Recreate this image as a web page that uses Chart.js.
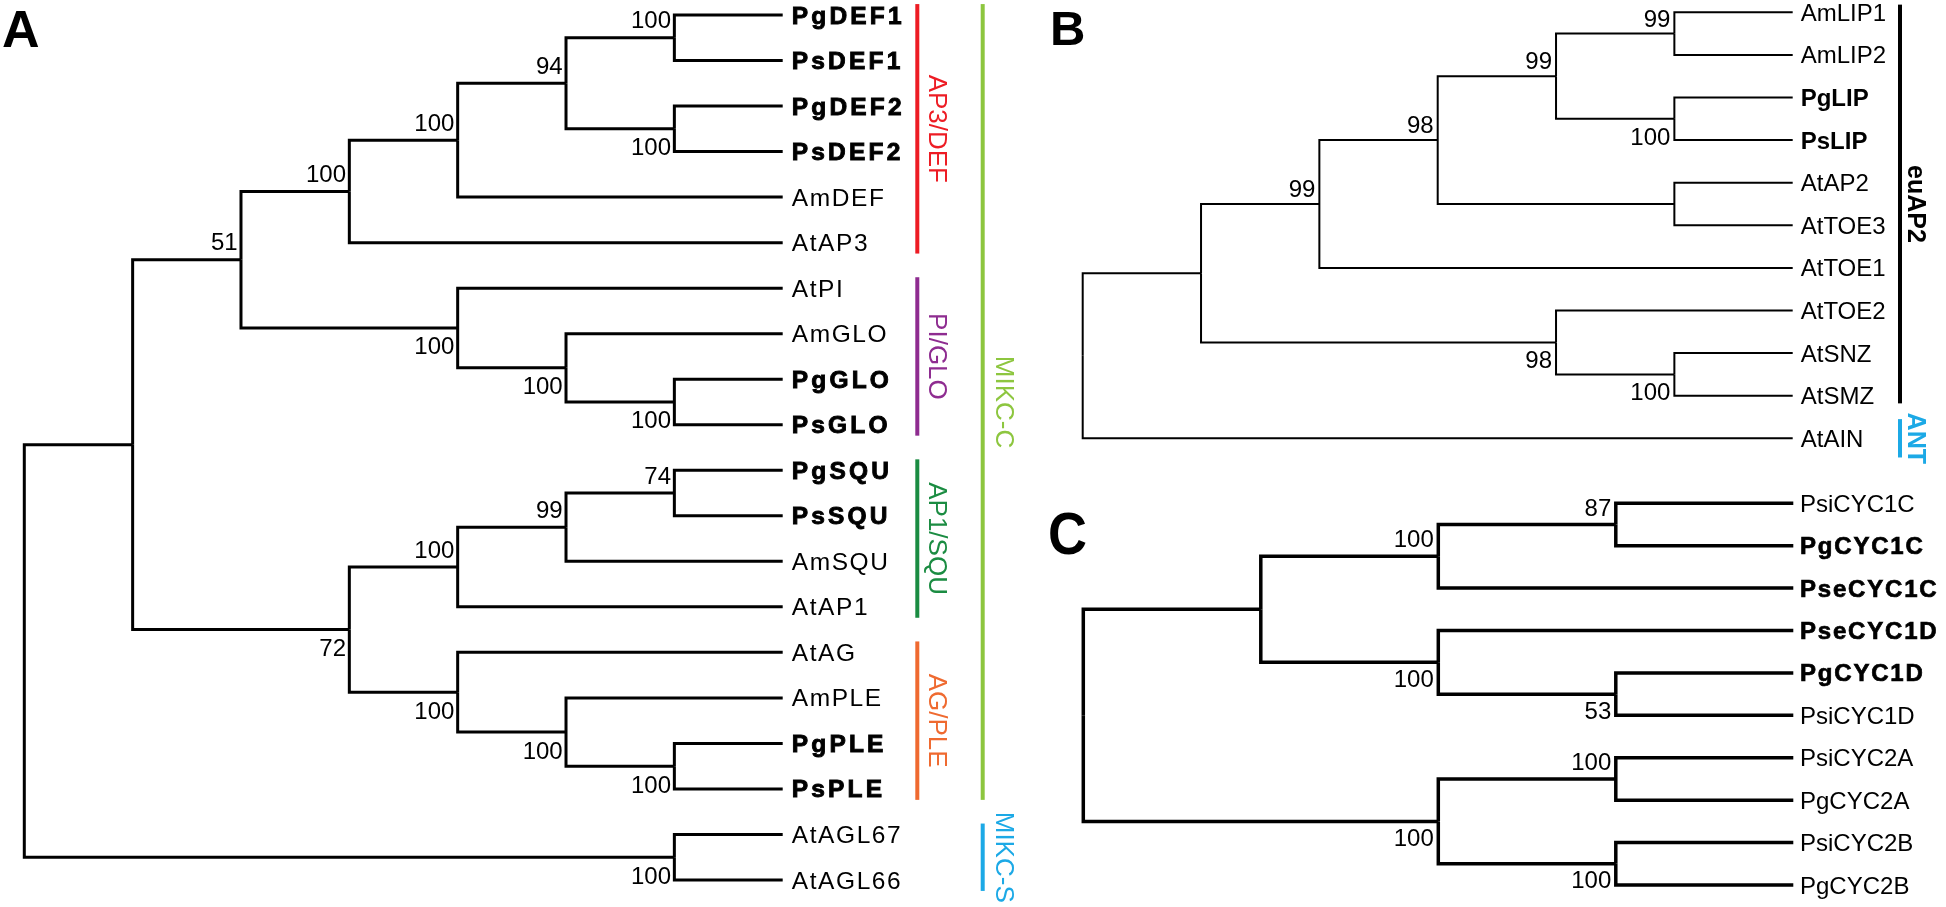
<!DOCTYPE html>
<html>
<head>
<meta charset="utf-8">
<script src="https://cdn.jsdelivr.net/npm/chart.js@4.4.0/dist/chart.umd.min.js"></script>
<style>
  body { margin: 0; background: #fff; }
  #wrap { position: relative; width: 1946px; height: 907px; background: #fff; }
  canvas { position: absolute; }
</style>
</head>
<body>
<div id="wrap">
  <canvas id="treeA" width="1040" height="907" style="left:0;top:0"></canvas>
  <canvas id="treeB" width="906" height="470" style="left:1040px;top:0"></canvas>
  <canvas id="treeC" width="906" height="437" style="left:1040px;top:470px"></canvas>
</div>
<script>
// ===================================
// --- TREE DATA (Newick, bootstrap values on internal nodes) ---
// ===================================

const newickA = "(((((((PgDEF1,PsDEF1)100,(PgDEF2,PsDEF2)100)94,AmDEF)100,AtAP3)100,(AtPI,(AmGLO,(PgGLO,PsGLO)100)100)100)51," +
                "((((PgSQU,PsSQU)74,AmSQU)99,AtAP1)100,(AtAG,(AmPLE,(PgPLE,PsPLE)100)100)100)72),(AtAGL67,AtAGL66)100)";
const newickB = "((((((AmLIP1,AmLIP2)99,(PgLIP,PsLIP)100)99,(AtAP2,AtTOE3))98,AtTOE1)99,(AtTOE2,(AtSNZ,AtSMZ)100)98),AtAIN)";
const newickC = "((((PsiCYC1C,PgCYC1C)87,PseCYC1C)100,(PseCYC1D,(PgCYC1D,PsiCYC1D)53)100),((PsiCYC2A,PgCYC2A)100,(PsiCYC2B,PgCYC2B)100)100)";

const boldTaxa = ["PgDEF1", "PsDEF1", "PgDEF2", "PsDEF2", "PgGLO", "PsGLO", "PgSQU", "PsSQU", "PgPLE", "PsPLE",
                  "PgLIP", "PsLIP", "PgCYC1C", "PseCYC1C", "PseCYC1D", "PgCYC1D"];

// subfamily brackets, panel A
const cladeNamesA  = ["AP3/DEF", "PI/GLO", "AP1/SQU", "AG/PLE"];
const cladeFirstA  = ["PgDEF1", "AtPI", "PgSQU", "AtAG"];
const cladeLastA   = ["AtAP3", "PsGLO", "AtAP1", "PsPLE"];
const cladeColorsA = ["#ed1c24", "#8e2c90", "#1b8c42", "#ef6a30"];

// outer brackets, panel A
const groupNamesA  = ["MIKC-C", "MIKC-S"];
const groupFirstA  = ["PgDEF1", "AtAGL67"];
const groupLastA   = ["PsPLE", "AtAGL66"];
const groupColorsA = ["#8dc63f", "#1ca9e6"];

// brackets, panel B
const groupNamesB  = ["euAP2", "ANT"];
const groupFirstB  = ["AmLIP1", "AtAIN"];
const groupLastB   = ["AtSMZ", "AtAIN"];
const groupColorsB = ["#000000", "#1ca9e6"];

const FONT = 'Arial, "Liberation Sans", sans-serif';

// ===================================
// --- TREE HELPERS ---
// ===================================

function parseNewick(str) {
    let i = 0;
    function readName() {
        let s = '';
        while (i < str.length && !'(),;'.includes(str[i])) s += str[i++];
        return s.trim();
    }
    function node() {
        const n = { children: [] };
        if (str[i] === '(') {
            i++;
            n.children.push(node());
            while (str[i] === ',') { i++; n.children.push(node()); }
            i++; // ')'
            const lab = readName();
            n.support = lab ? Number(lab) : null;
        } else {
            n.name = readName();
        }
        return n;
    }
    return node();
}

// cladogram: leaves aligned right, node depth = height above tips
function layoutTree(root) {
    const leaves = [];
    (function walk(n) {
        if (!n.children.length) { n.y = leaves.length; n.h = 0; leaves.push(n); return; }
        n.children.forEach(walk);
        n.h = Math.max(...n.children.map(c => c.h)) + 1;
        n.y = (n.children[0].y + n.children[n.children.length - 1].y) / 2;
    })(root);
    return leaves;
}

function edgeDatasets(root, lineWidth) {
    const sets = [];
    (function walk(n) {
        n.children.forEach((c, k) => {
            c.above = k === 0;
            sets.push({
                data: [{ x: n.h, y: n.y }, { x: n.h, y: c.y }, { x: c.h, y: c.y }],
                showLine: true,
                borderColor: '#000',
                borderWidth: lineWidth,
                borderJoinStyle: 'miter',
                borderCapStyle: 'butt',
                pointRadius: 0,
                fill: false,
                clip: false
            });
            walk(c);
        });
    })(root);
    return sets;
}

function internalNodes(root) {
    const out = [];
    (function walk(n) {
        if (n.children.length) { out.push(n); n.children.forEach(walk); }
    })(root);
    return out;
}

// ===================================
// --- LABEL PLUGIN ---
// ===================================

function treeLabels(root, leaves, cfg) {
    const nodes = internalNodes(root);
    const leafIndex = name => leaves.findIndex(l => l.name === name);

    return {
        id: 'treeLabels',
        afterDatasetsDraw(chart) {
            const ctx = chart.ctx;
            const xs = chart.scales.x, ys = chart.scales.y;
            const tipX = xs.getPixelForValue(0);
            ctx.save();
            ctx.fillStyle = '#000';
            ctx.strokeStyle = '#000';

            // taxon names
            ctx.textAlign = 'left';
            ctx.textBaseline = 'alphabetic';
            leaves.forEach(leaf => {
                const bold = boldTaxa.includes(leaf.name);
                const px = tipX + cfg.leafGap;
                const py = ys.getPixelForValue(leaf.y) + 8.5;
                ctx.font = (bold ? 'bold ' : '') + cfg.leafSize + 'px ' + FONT;
                ctx.letterSpacing = (bold ? cfg.boldSpacing : cfg.normalSpacing) + 'px';
                ctx.fillText(leaf.name, px, py);
                if (bold && cfg.boldStroke) {
                    ctx.lineWidth = cfg.boldStroke;
                    ctx.strokeText(leaf.name, px, py);
                }
            });
            ctx.letterSpacing = '0px';

            // bootstrap values
            ctx.font = '24px ' + FONT;
            ctx.textAlign = 'right';
            nodes.forEach(n => {
                if (n.support == null) return;
                const px = xs.getPixelForValue(n.h) - cfg.supGap;
                const py = ys.getPixelForValue(n.y);
                ctx.fillText(String(n.support), px, n.above ? py - cfg.supAbove : py + cfg.supBelow + 17);
            });

            // clade brackets
            (cfg.brackets || []).forEach(b => {
                b.names.forEach((name, k) => {
                    const i1 = leafIndex(b.first[k]), i2 = leafIndex(b.last[k]);
                    const pad = i1 === i2 ? 0.45 : b.pad;
                    const y1 = ys.getPixelForValue(i1 - pad);
                    const y2 = ys.getPixelForValue(i2 + pad);
                    const x = tipX + b.offset;
                    ctx.fillStyle = b.colors[k];
                    ctx.fillRect(x - 2, y1, 4, y2 - y1);
                    ctx.save();
                    ctx.translate(x + b.labelOffset, (y1 + y2) / 2);
                    ctx.rotate(Math.PI / 2);
                    ctx.font = b.font;
                    ctx.textAlign = 'center';
                    ctx.fillText(name, 0, 0);
                    ctx.restore();
                });
            });

            // panel letter
            ctx.fillStyle = '#000';
            ctx.textAlign = 'left';
            ctx.save();
            ctx.translate(cfg.letter.x, cfg.letter.y);
            ctx.scale(1, cfg.letter.stretch || 1);
            ctx.font = 'bold ' + cfg.letter.size + 'px ' + FONT;
            ctx.fillText(cfg.letter.text, 0, 0);
            ctx.restore();

            ctx.restore();
        }
    };
}

// ===================================
// --- CHART BUILDER ---
// ===================================

function drawTree(canvasId, newick, cfg) {
    const root = parseNewick(newick);
    const leaves = layoutTree(root);
    return new Chart(document.getElementById(canvasId), {
        type: 'scatter',
        data: { datasets: edgeDatasets(root, cfg.lineWidth) },
        options: {
            responsive: false,
            animation: false,
            events: [],
            layout: { padding: cfg.padding },
            plugins: { legend: { display: false }, tooltip: { enabled: false } },
            scales: {
                x: { type: 'linear', display: false, reverse: true, min: 0, max: root.h },
                y: { type: 'linear', display: false, reverse: true, min: 0, max: leaves.length - 1 }
            }
        },
        plugins: [treeLabels(root, leaves, cfg)]
    });
}

drawTree('treeA', newickA, {
    lineWidth: 3,
    padding: { left: 24.3, right: 257.3, top: 15, bottom: 27 },
    leafSize: 24.5, leafGap: 9, normalSpacing: 1.6, boldSpacing: 3.2, boldStroke: 0.9,
    supGap: 3.3, supAbove: 9.5, supBelow: 9.5,
    letter: { text: 'A', x: 2, y: 46.7, size: 52 },
    brackets: [
        { names: cladeNamesA, first: cladeFirstA, last: cladeLastA, colors: cladeColorsA,
          offset: 134.6, labelOffset: 12, pad: 0.24, font: '26px ' + FONT },
        { names: groupNamesA, first: groupFirstA, last: groupLastA, colors: groupColorsA,
          offset: 200, labelOffset: 13.3, pad: 0.24, font: '26px ' + FONT }
    ]
});

drawTree('treeB', newickB, {
    lineWidth: 2,
    padding: { left: 42.7, right: 153.3, top: 12.3, bottom: 31.7 },
    leafSize: 24, leafGap: 8, normalSpacing: 0, boldSpacing: 0, boldStroke: 0,
    supGap: 4, supAbove: 7, supBelow: 9,
    letter: { text: 'B', x: 10, y: 45, size: 49 },
    brackets: [
        { names: groupNamesB, first: groupFirstB, last: groupLastB, colors: groupColorsB,
          offset: 107.3, labelOffset: 8.3, pad: 0.18, font: 'bold 25px ' + FONT }
    ]
});

drawTree('treeC', newickC, {
    lineWidth: 3.5,
    padding: { left: 43.3, right: 152.7, top: 33.3, bottom: 22 },
    leafSize: 24, leafGap: 6.7, normalSpacing: 0, boldSpacing: 1.8, boldStroke: 0.7,
    supGap: 4.5, supAbove: 9, supBelow: 7.5,
    letter: { text: 'C', x: 8, y: 84, size: 54, stretch: 1.08 }
});
</script>
</body>
</html>
